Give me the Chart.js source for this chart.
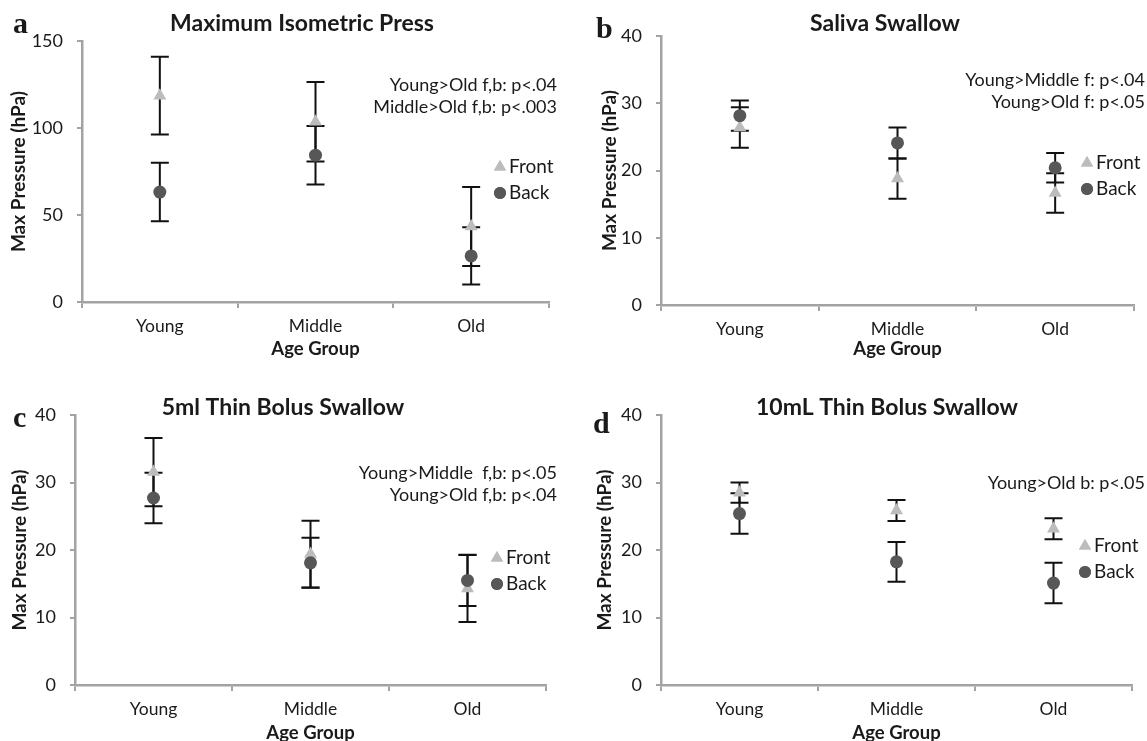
<!DOCTYPE html>
<html>
<head>
<meta charset="utf-8">
<script src="https://cdn.jsdelivr.net/npm/chart.js@4.4.1/dist/chart.umd.min.js"></script>
<style>
  html, body { margin: 0; padding: 0; background: #fff; overflow: hidden; width: 1147px; height: 741px; }
  canvas { position: absolute; }
</style>
</head>
<body>
<canvas id="chartA" width="573" height="370" style="left:0;top:0"></canvas>
<canvas id="chartB" width="573" height="370" style="left:574px;top:0"></canvas>
<canvas id="chartC" width="573" height="380" style="left:0;top:370px"></canvas>
<canvas id="chartD" width="573" height="380" style="left:574px;top:370px"></canvas>
<script>
const ageGroups = ["Young", "Middle", "Old"];

// a: maximum isometric press
const pressFront = [118.6, 103.6, 43.4];
const pressFrontErr = [22.4, 22.8, 22.7];
const pressBack = [63.2, 84.4, 26.5];
const pressBackErr = [16.8, 16.8, 16.5];
const pressTicks = [0, 50, 100, 150];

// b: saliva swallow
const salivaFront = [26.4, 18.8, 16.65];
const salivaFrontErr = [3.0, 3.0, 2.95];
const salivaBack = [28.15, 24.1, 20.4];
const salivaBackErr = [2.25, 2.3, 2.2];

// c: 5ml thin bolus
const bolus5Front = [31.55, 19.4, 14.3];
const bolus5FrontErr = [5.05, 4.95, 4.95];
const bolus5Back = [27.7, 18.1, 15.5];
const bolus5BackErr = [3.75, 3.7, 3.8];

// d: 10mL thin bolus
const bolus10Front = [28.5, 25.85, 23.15];
const bolus10FrontErr = [1.5, 1.55, 1.55];
const bolus10Back = [25.4, 18.25, 15.1];
const bolus10BackErr = [3.0, 2.95, 3.0];

const swallowTicks = [0, 10, 20, 30, 40];

const FRONT_COLOR = "#bcbcbc";
const BACK_COLOR = "#575757";
const AXIS_COLOR = "#a3a3a3";
const TEXT_COLOR = "#1a1a1a";

const errorBars = {
  id: "errorBars",
  beforeDatasetsDraw(chart) {
    const ctx = chart.ctx;
    const yScale = chart.scales.y;
    ctx.save();
    ctx.strokeStyle = "#111";
    ctx.lineWidth = 2;
    chart.data.datasets.forEach((dataset, di) => {
      const meta = chart.getDatasetMeta(di);
      dataset.errors.forEach((err, i) => {
        const x = meta.data[i].x;
        const top = yScale.getPixelForValue(dataset.data[i] + err);
        const bottom = yScale.getPixelForValue(dataset.data[i] - err);
        ctx.beginPath();
        ctx.moveTo(x, top);
        ctx.lineTo(x, bottom);
        ctx.moveTo(x - 9, top);
        ctx.lineTo(x + 9, top);
        ctx.moveTo(x - 9, bottom);
        ctx.lineTo(x + 9, bottom);
        ctx.stroke();
      });
    });
    ctx.restore();
  },
};

const panelDecor = {
  id: "panelDecor",
  afterDraw(chart, args, opts) {
    const ctx = chart.ctx;
    ctx.save();
    ctx.fillStyle = TEXT_COLOR;

    ctx.font = "bold 30px 'Liberation Serif'";
    ctx.textAlign = "left";
    ctx.textBaseline = "alphabetic";
    ctx.fillText(opts.letter, opts.letterPos[0], opts.letterPos[1]);

    ctx.font = "bold 23px Lato";
    ctx.textAlign = "center";
    ctx.textBaseline = "middle";
    ctx.fillText(opts.title, opts.titlePos[0], opts.titlePos[1]);

    ctx.font = "18px Lato";
    ctx.textAlign = "right";
    opts.notes.forEach((line, i) => {
      ctx.fillText(line, opts.notePos[0], opts.notePos[1] + i * 22);
    });

    const [lx, ly] = opts.legendPos;
    const items = [
      { text: "Front", style: "triangle", color: FRONT_COLOR, radius: 7 },
      { text: "Back", style: "circle", color: BACK_COLOR, radius: 6 },
    ];
    ctx.font = "19px Lato";
    ctx.textAlign = "left";
    items.forEach((item, i) => {
      const y = ly + i * 26;
      ctx.fillStyle = item.color;
      Chart.helpers.drawPoint(ctx, { pointStyle: item.style, radius: item.radius, borderWidth: 0 }, lx, y);
      ctx.fill();
      ctx.fillStyle = TEXT_COLOR;
      ctx.fillText(item.text, lx + 9, y);
    });
    ctx.restore();
  },
};

function buildChart(canvasId, panel) {
  const canvas = document.getElementById(canvasId);
  const width = canvas.width;
  const height = canvas.height;

  return new Chart(canvas, {
    type: "line",
    data: {
      labels: ageGroups,
      datasets: [
        {
          label: "Back",
          data: panel.back,
          errors: panel.backErr,
          showLine: false,
          pointStyle: "circle",
          pointRadius: 6.5,
          pointBackgroundColor: BACK_COLOR,
          pointBorderWidth: 0,
          order: 1,
        },
        {
          label: "Front",
          data: panel.front,
          errors: panel.frontErr,
          showLine: false,
          pointStyle: "triangle",
          pointRadius: 7.5,
          pointBackgroundColor: FRONT_COLOR,
          pointBorderWidth: 0,
          order: 2,
        },
      ],
    },
    options: {
      responsive: false,
      animation: false,
      devicePixelRatio: 1,
      layout: {
        padding: { top: panel.area.top, right: width - panel.area.right, bottom: 0, left: 0 },
      },
      plugins: {
        legend: { display: false },
        tooltip: { enabled: false },
        panelDecor: panel.decor,
      },
      scales: {
        x: {
          offset: true,
          grid: {
            offset: true,
            drawOnChartArea: false,
            color: AXIS_COLOR,
            lineWidth: 2,
            tickLength: 6,
          },
          border: { color: AXIS_COLOR, width: 2.5 },
          ticks: { color: TEXT_COLOR, padding: 8, font: { family: "Lato", size: 17.5 } },
          title: {
            display: true,
            text: "Age Group",
            color: TEXT_COLOR,
            font: { family: "Lato", size: 18.5, weight: "bold" },
            padding: { top: 0, bottom: panel.xTitlePad },
          },
          afterFit(scale) {
            scale.height = height - panel.area.bottom;
          },
        },
        y: {
          min: 0,
          max: panel.ticks[panel.ticks.length - 1],
          afterBuildTicks(scale) {
            scale.ticks = panel.ticks.map((value) => ({ value }));
          },
          grid: {
            drawOnChartArea: false,
            color: AXIS_COLOR,
            lineWidth: 2,
            tickLength: 5,
          },
          border: { color: AXIS_COLOR, width: 2.5 },
          ticks: { color: TEXT_COLOR, padding: 14, font: { family: "Lato", size: 18 } },
          title: {
            display: true,
            text: "Max Pressure (hPa)",
            color: TEXT_COLOR,
            font: { family: "Lato", size: 19, weight: "bold" },
            padding: { top: panel.yTitlePad, bottom: 0 },
          },
          afterFit(scale) {
            scale.width = panel.area.left;
          },
        },
      },
    },
    plugins: [errorBars, panelDecor],
  });
}

buildChart("chartA", {
  front: pressFront, frontErr: pressFrontErr,
  back: pressBack, backErr: pressBackErr,
  ticks: pressTicks,
  area: { left: 82, right: 549, top: 41, bottom: 302 },
  xTitlePad: 10,
  yTitlePad: 7,
  decor: {
    letter: "a", letterPos: [13, 33],
    title: "Maximum Isometric Press", titlePos: [302, 24],
    notes: ["Young>Old f,b: p<.04", "Middle>Old f,b: p<.003"], notePos: [557, 85],
    legendPos: [500, 167],
  },
});

buildChart("chartB", {
  front: salivaFront, frontErr: salivaFrontErr,
  back: salivaBack, backErr: salivaBackErr,
  ticks: swallowTicks,
  area: { left: 87, right: 560, top: 36, bottom: 305 },
  xTitlePad: 10,
  yTitlePad: 24,
  decor: {
    letter: "b", letterPos: [22, 38],
    title: "Saliva Swallow", titlePos: [311, 24],
    notes: ["Young>Middle f: p<.04", "Young>Old f: p<.05"], notePos: [571, 80],
    legendPos: [513, 163],
  },
});

buildChart("chartC", {
  front: bolus5Front, frontErr: bolus5FrontErr,
  back: bolus5Back, backErr: bolus5BackErr,
  ticks: swallowTicks,
  area: { left: 75, right: 546, top: 45, bottom: 315 },
  xTitlePad: 6,
  yTitlePad: 8,
  decor: {
    letter: "c", letterPos: [13, 57],
    title: "5ml Thin Bolus Swallow", titlePos: [283, 38],
    notes: ["Young>Middle  f,b: p<.05", "Young>Old f,b: p<.04"], notePos: [557, 103],
    legendPos: [497, 188],
  },
});

buildChart("chartD", {
  front: bolus10Front, frontErr: bolus10FrontErr,
  back: bolus10Back, backErr: bolus10BackErr,
  ticks: swallowTicks,
  area: { left: 87, right: 558, top: 45, bottom: 315 },
  xTitlePad: 6,
  yTitlePad: 19,
  decor: {
    letter: "d", letterPos: [19, 63],
    title: "10mL Thin Bolus Swallow", titlePos: [313, 38],
    notes: ["Young>Old b: p<.05"], notePos: [571, 113],
    legendPos: [511, 176],
  },
});
</script>
</body>
</html>
